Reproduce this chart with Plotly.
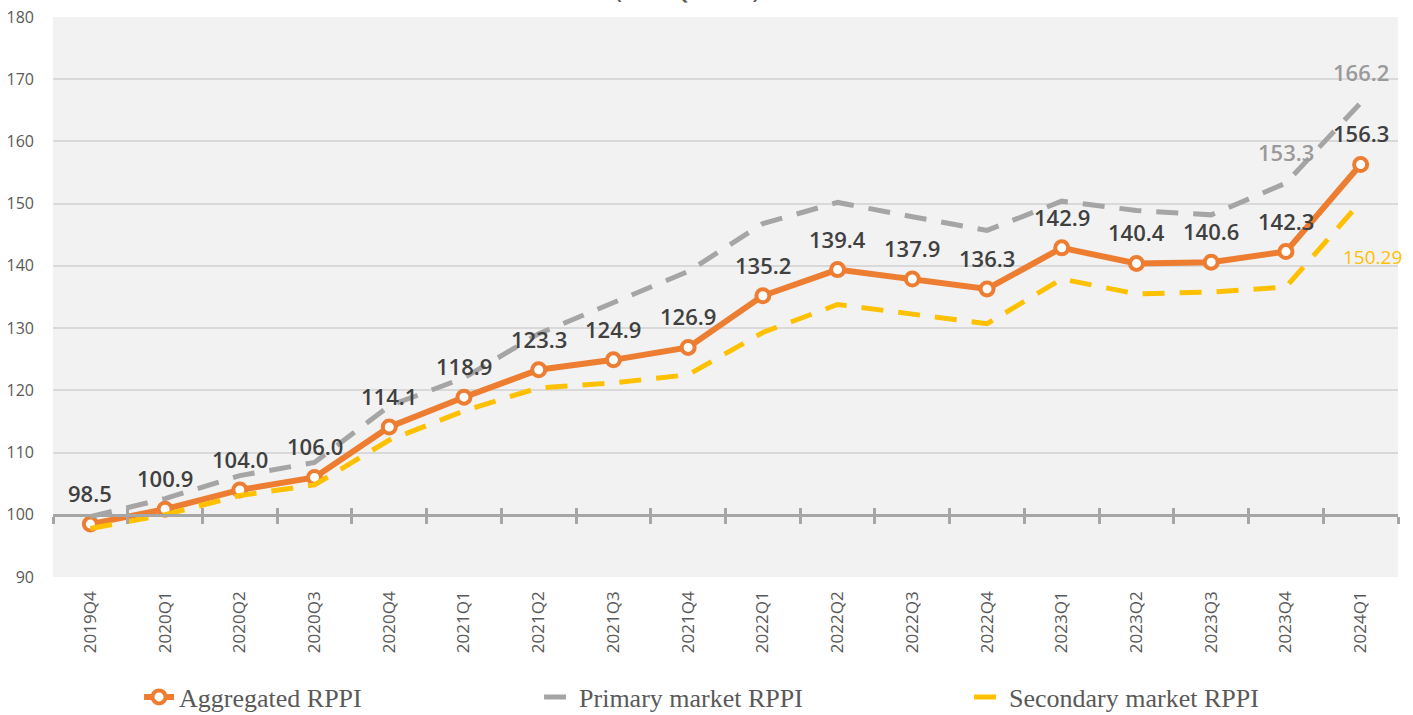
import plotly.graph_objects as go

quarters = ["2019Q4", "2020Q1", "2020Q2", "2020Q3", "2020Q4", "2021Q1", "2021Q2",
            "2021Q3", "2021Q4", "2022Q1", "2022Q2", "2022Q3", "2022Q4", "2023Q1",
            "2023Q2", "2023Q3", "2023Q4", "2024Q1"]
aggregated = [98.5, 100.9, 104.0, 106.0, 114.1, 118.9, 123.3, 124.9, 126.9, 135.2,
              139.4, 137.9, 136.3, 142.9, 140.4, 140.6, 142.3, 156.3]
primary = [99.7, 102.6, 106.3, 108.4, 117.5, 122.0, 129.1, 134.1, 139.1, 146.8,
           150.2, 147.9, 145.7, 150.4, 148.9, 148.2, 153.3, 166.2]
secondary = [97.8, 100.0, 103.1, 104.8, 112.0, 116.7, 120.4, 121.2, 122.5, 129.3,
             133.8, 132.2, 130.7, 137.9, 135.5, 135.8, 136.6, 150.29]
y_ticks = [90, 100, 110, 120, 130, 140, 150, 160, 170, 180]
title_text = "(2019Q4=100)"

ORANGE = "#ED7D31"
GREY = "#A5A5A5"
YELLOW = "#FFC000"
LABEL = "#404040"
AXIS_TXT = "#595959"

fig = go.Figure()

fig.add_trace(go.Scatter(
    x=quarters, y=aggregated, name="Aggregated RPPI", mode="lines+markers",
    line=dict(color=ORANGE, width=6),
    marker=dict(symbol="circle", size=13, color="white", line=dict(color=ORANGE, width=4)),
    legend="legend", hoverinfo="x+y"))
fig.add_trace(go.Scatter(
    x=quarters, y=primary, name="Primary market RPPI", mode="lines",
    line=dict(color=GREY, width=5, dash="22px,15px"),
    legend="legend2", hoverinfo="x+y"))
fig.add_trace(go.Scatter(
    x=quarters, y=secondary, name="Secondary market RPPI", mode="lines",
    line=dict(color=YELLOW, width=5, dash="22px,15px"),
    legend="legend3", hoverinfo="x+y"))

# invisible helper traces so the "crossing" axis at 100 gets rendered
idx = list(range(len(quarters)))
for ax in ("x2", "x3"):
    fig.add_trace(go.Scatter(x=idx, y=aggregated, xaxis=ax, mode="markers",
                             marker=dict(opacity=0), showlegend=False, hoverinfo="skip"))

annotations = []
for q, v in zip(quarters, aggregated):
    annotations.append(dict(x=q, y=v, text=f"{v:.1f}", showarrow=False, yshift=31,
                            font=dict(family="Open Sans", size=22, color=LABEL, weight=600)))
for i in (16, 17):
    annotations.append(dict(x=quarters[i], y=primary[i], text=f"{primary[i]:.1f}",
                            showarrow=False, yshift=31,
                            font=dict(family="Open Sans", size=22, color="#9a9a9a", weight=600)))
annotations.append(dict(x=quarters[17], y=secondary[17], text=f"{secondary[17]:.2f}",
                        showarrow=False, xshift=12, yshift=-55,
                        font=dict(family="Open Sans", size=19, color=YELLOW)))
annotations.append(dict(x=0.472, y=1, xref="paper", yref="paper", yanchor="middle",
                        yshift=27, text=title_text, showarrow=False,
                        font=dict(family="Open Sans", size=22, color=AXIS_TXT, weight=600)))

legend_common = dict(orientation="h", yanchor="middle", xanchor="left",
                     xref="container", yref="container",
                     font=dict(family="Liberation Serif", size=26, color=AXIS_TXT),
                     bgcolor="rgba(0,0,0,0)")

fig.update_layout(
    width=1413, height=715,
    margin=dict(l=53, r=15, t=17, b=138, autoexpand=False),
    paper_bgcolor="white", plot_bgcolor="#F2F2F2",
    annotations=annotations,
    legend=dict(x=0.0984, y=0.0252, **legend_common),
    legend2=dict(x=0.3815, y=0.0252, **legend_common),
    legend3=dict(x=0.6858, y=0.0252, **legend_common),
    xaxis=dict(type="category", categoryorder="array", categoryarray=quarters,
               range=[-0.5, 17.5], tickangle=-90, showgrid=False, zeroline=False,
               showline=False, ticks="", ticklabelstandoff=10, automargin=False,
               tickfont=dict(family="Open Sans", size=17, color=AXIS_TXT)),
    xaxis2=dict(type="linear", overlaying="x", anchor="free", position=1/9,
                range=[-0.5, 17.5], tickmode="linear", tick0=-0.5, dtick=1,
                showline=True, linecolor="#A6A6A6", linewidth=3, automargin=False,
                ticks="outside", ticklen=7, tickwidth=3, tickcolor="#A6A6A6",
                showticklabels=False, showgrid=False, zeroline=False, fixedrange=True),
    xaxis3=dict(type="linear", overlaying="x", anchor="free", position=1/9,
                range=[-0.5, 17.5], tickmode="linear", tick0=-0.5, dtick=1,
                showline=False, ticks="inside", ticklen=7, tickwidth=3, tickcolor="#A6A6A6",
                automargin=False,
                showticklabels=False, showgrid=False, zeroline=False, fixedrange=True),
    yaxis=dict(range=[90, 180], tickvals=y_ticks, showgrid=True, gridcolor="#D9D9D9",
               gridwidth=2, zeroline=False, showline=False, ticks="",
               ticklabelstandoff=18, automargin=False,
               tickfont=dict(family="Open Sans", size=16, color=AXIS_TXT)),
)

fig.write_html("out.html", config={"displayModeBar": False},
               post_script="document.body.style.margin='0';")
